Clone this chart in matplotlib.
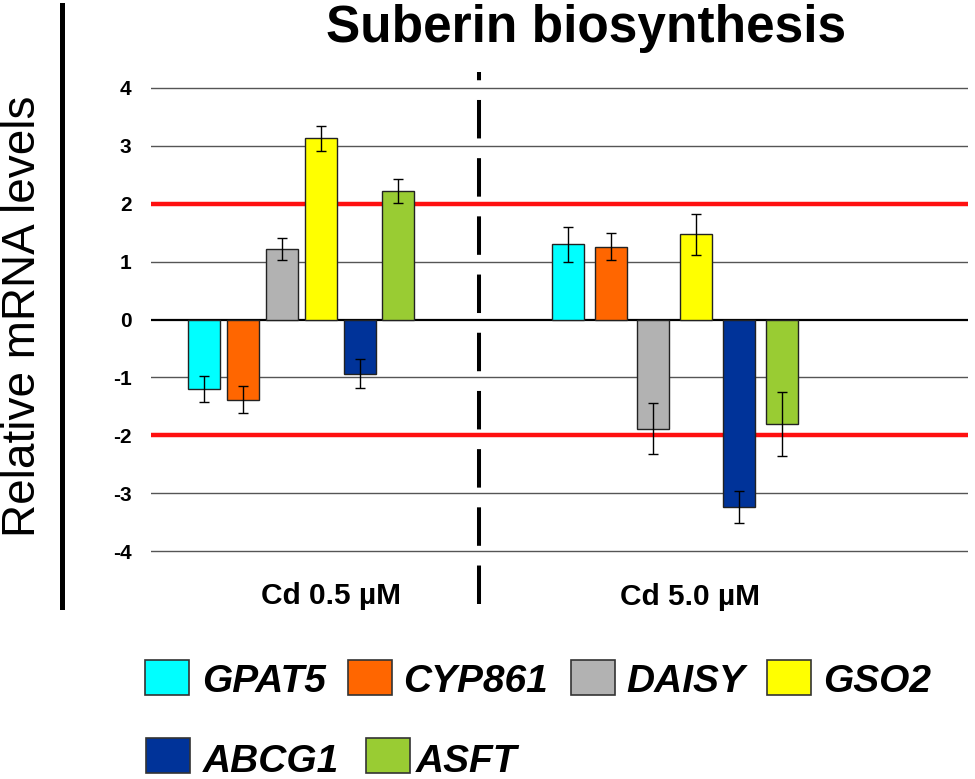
import matplotlib
matplotlib.use('Agg')
import matplotlib.pyplot as plt
from matplotlib.patches import Rectangle
from matplotlib.lines import Line2D
import numpy as np

plt.rcParams['font.family'] = ['Liberation Sans', 'DejaVu Sans']
plt.rcParams['lines.scale_dashes'] = False

genes = ['GPAT5', 'CYP861', 'DAISY', 'GSO2', 'ABCG1', 'ASFT']
colors = ['#00FFFF', '#FF6600', '#B2B2B2', '#FFFF00', '#003399', '#99CC33']
conditions = ['Cd 0.5 µM', 'Cd 5.0 µM']
vals_low = [-1.20, -1.385, 1.21, 3.13, -0.935, 2.22]
errs_low = [0.23, 0.23, 0.19, 0.22, 0.25, 0.20]
vals_high = [1.30, 1.26, -1.885, 1.47, -3.24, -1.80]
errs_high = [0.30, 0.24, 0.44, 0.35, 0.28, 0.55]
yticks = [-4, -3, -2, -1, 0, 1, 2, 3, 4]
threshold = 2

# layout, in pixels of the 975x779 picture
W, H = 975, 779
def fx(px):
    return px / W
def fy(py):
    return 1 - py / H

y0_px, unit_px = 319.5, 57.9
ylo, yhi = -4.5, 4.5
top_px = y0_px - yhi * unit_px
bot_px = y0_px - ylo * unit_px
left_px, right_px = 151, 968

fig = plt.figure(figsize=(W / 100, H / 100), dpi=100)
ax = fig.add_axes([fx(left_px), fy(bot_px), (right_px - left_px) / W, (bot_px - top_px) / H])
ax.set_xlim(left_px, right_px)
ax.set_ylim(ylo, yhi)
for s in ax.spines.values():
    s.set_visible(False)
ax.set_xticks([])
ax.set_yticks(yticks)
ax.set_yticklabels([str(t) for t in yticks], fontsize=15, fontweight='bold')
ax.tick_params(axis='y', length=0, pad=14)

# grid lines
for t in yticks:
    if abs(t) == threshold:
        continue
    if t == 0:
        ax.axhline(t, color='black', lw=1.6, zorder=1)
    else:
        ax.axhline(t, color='#555555', lw=1.0, zorder=1)
ax.axhline(threshold, color='#FF1010', lw=3.2, zorder=1)
ax.axhline(-threshold, color='#FF1010', lw=3.2, zorder=1)

group_centers = [301.4, 674.8]
pitches = [38.8, 42.7]
bar_w = 32
for gc, pitch, vals, errs in zip(group_centers, pitches, [vals_low, vals_high], [errs_low, errs_high]):
    xs = gc + (np.arange(len(genes)) - 2.5) * pitch
    ax.bar(xs, vals, width=bar_w, color=colors, edgecolor='#222222', linewidth=1.0, zorder=3)
    ax.errorbar(xs, vals, yerr=errs, fmt='none', ecolor='black', elinewidth=1.0,
                capsize=3.4, capthick=1.0, zorder=4)

# dashed divider between the two treatments
ax.plot([479.5, 479.5], [(y0_px - 604) / unit_px, (y0_px - 72) / unit_px], color='black',
        lw=2.9, dashes=(27.7, 14.2), solid_capstyle='butt', dash_capstyle='butt',
        clip_on=False, zorder=2)

# condition labels
fig.text(fx(330.7), fy(604), conditions[0], ha='center', va='baseline', fontsize=21.5, fontweight='bold')
fig.text(fx(689.5), fy(605), conditions[1], ha='center', va='baseline', fontsize=21.5, fontweight='bold')

# title, y label and the black bar on the left
fig.text(fx(586), fy(42), 'Suberin biosynthesis', ha='center', va='baseline', fontsize=37, fontweight='bold')
fig.text(fx(23), fy(316.5), 'Relative mRNA levels', rotation=90, ha='center', va='center', fontsize=33)
fig.add_artist(Line2D([fx(62), fx(62)], [fy(5), fy(607)], color='black', lw=3.6))

# legend, drawn by hand
leg_patch_x = [145, 348, 571, 767, 146, 366]
leg_text_x = [202, 403, 626, 823, 203, 416]
leg_row = [0, 0, 0, 0, 1, 1]
patch_top = [660, 738]
baseline = [692, 771.5]
for g, c, px, tx, r in zip(genes, colors, leg_patch_x, leg_text_x, leg_row):
    fig.add_artist(Rectangle((fx(px), fy(patch_top[r] + 35)), 44 / W, 35 / H,
                             facecolor=c, edgecolor='#333333', lw=1.2, transform=fig.transFigure))
    fig.text(fx(tx), fy(baseline[r]), g, ha='left', va='baseline', fontsize=28,
             fontweight='bold', fontstyle='italic')

fig.savefig('out.png', dpi=100)
